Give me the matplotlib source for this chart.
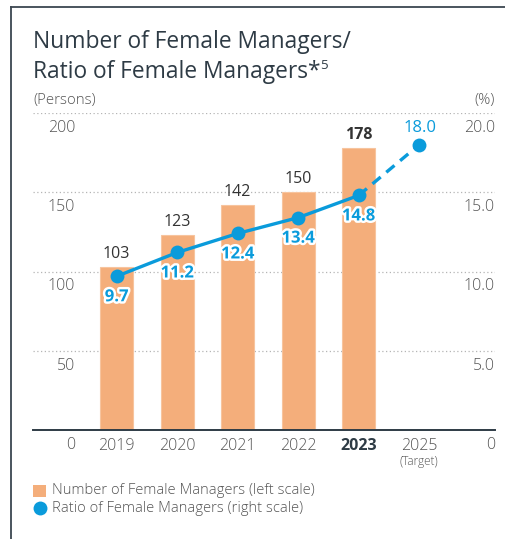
import matplotlib
matplotlib.use("Agg")
import matplotlib.pyplot as plt
import matplotlib.transforms as mtransforms
import matplotlib.patheffects as pe
from matplotlib.patches import Rectangle
from matplotlib.lines import Line2D

plt.rcParams['font.family'] = ['Open Sans', 'DejaVu Sans']

# ---- data ----
years = ["2019", "2020", "2021", "2022", "2023", "2025"]
managers = [103, 123, 142, 150, 178]
ratios = [9.7, 11.2, 12.4, 13.4, 14.8, 18.0]
left_ticks = [0, 50, 100, 150, 200]
left_tick_labels = ["0", "50", "100", "150", "200"]
right_ticks = [0, 5, 10, 15, 20]
right_tick_labels = ["0", "5.0", "10.0", "15.0", "20.0"]
title_line1 = "Number of Female Managers/"
title_line2 = "Ratio of Female Managers*"
legend_labels = ["Number of Female Managers (left scale)",
                 "Ratio of Female Managers (right scale)"]

W, H = 506, 539
DPI = 100
fig = plt.figure(figsize=(W / DPI, H / DPI), dpi=DPI)

def fx(x):
    return x / W

def fy(y):
    return 1 - y / H

BAR_C = "#F4AE7B"
BLUE = "#0A9BDB"
DARK = "#2E3B45"
TXT = "#555555"
LIGHT = "light"

# frame lines
fig.add_artist(Line2D([fx(11), fx(11)], [fy(7), fy(H + 2)], color="#3C4650", lw=1.3))
fig.add_artist(Line2D([fx(11), fx(W + 2)], [fy(7), fy(7)], color="#3C4650", lw=1.3))

# axes: x from 33 to 495 px, y from 430 (0) to 113 (200)
ax = fig.add_axes([fx(33), fy(430), (495 - 33) / W, (430 - 113) / H])
x = list(range(len(years)))
step = 60.5
ax.set_xlim((33 - 116.7) / step, (495 - 116.7) / step)
ax.set_ylim(0, 200)

ax.bar(x[:len(managers)], managers, width=33 / step, color=BAR_C,
       edgecolor="#F7C49E", linewidth=0.8, zorder=2)
for xi, v in zip(x, managers):
    bold = xi == len(managers) - 1
    ax.annotate(str(v), xy=(xi, v), xytext=(0, 13), textcoords="offset pixels",
                ha="center", va="center", fontsize=11.5, color="#333333",
                fontweight="bold" if bold else "normal", zorder=5)

for s in ["top", "left", "right"]:
    ax.spines[s].set_visible(False)
ax.spines["bottom"].set_color(DARK)
ax.spines["bottom"].set_linewidth(1.4)
ax.spines["bottom"].set_zorder(4)

ax.set_yticks(left_ticks)
ax.set_yticklabels(left_tick_labels)
ax.yaxis.grid(True, linestyle=(0, (1, 2)), color="#B5B5B5", linewidth=0.9)
ax.set_axisbelow(True)
ax.tick_params(axis="y", length=0, pad=0, labelsize=11.5, labelcolor=TXT)
for lab in ax.get_yticklabels():
    lab.set_fontweight(LIGHT)
    lab.set_transform(lab.get_transform() +
                      mtransforms.ScaledTranslation(42 / DPI, -13 / DPI, fig.dpi_scale_trans))

ax.set_xticks(x)
ax.set_xticklabels(years)
ax.tick_params(axis="x", length=0, pad=6, labelsize=11.5, labelcolor=TXT)
for lab in ax.get_xticklabels():
    if lab.get_text() == "2023":
        lab.set_fontweight("bold")
        lab.set_color(DARK)
    else:
        lab.set_fontweight(LIGHT)
ax.annotate("(Target)", xy=(5, 0), xycoords=("data", "axes fraction"),
            xytext=(0, -31), textcoords="offset pixels", ha="center", va="center",
            fontsize=8.5, color=TXT, fontweight=LIGHT)

# right axis
ax2 = ax.twinx()
ax2.set_ylim(0, 20)
ax2.set_yticks(right_ticks)
ax2.set_yticklabels(right_tick_labels)
ax2.tick_params(axis="y", length=0, pad=0, labelsize=11.5, labelcolor=TXT)
for lab in ax2.get_yticklabels():
    lab.set_fontweight(LIGHT)
    lab.set_horizontalalignment("right")
    lab.set_transform(lab.get_transform() +
                      mtransforms.ScaledTranslation(0, -13 / DPI, fig.dpi_scale_trans))
for s in ax2.spines.values():
    s.set_visible(False)

n = len(managers)
ax2.plot(x[:n], ratios[:n], "-", color=BLUE, lw=2.4, zorder=3)
ax2.plot(x[n - 1:], ratios[n - 1:], "--", color=BLUE, lw=2.4, dashes=(3.2, 2.2), zorder=3)
ax2.plot(x, ratios, "o", color=BLUE, ms=10, zorder=4, markeredgewidth=0)

stroke = [pe.withStroke(linewidth=3.5, foreground="white")]
for xi, v in zip(x, ratios):
    if xi < n:
        ax2.annotate(f"{v:.1f}", xy=(xi, v), xytext=(0, -20), textcoords="offset pixels",
                     ha="center", va="center", fontsize=12, color=BLUE,
                     fontweight="bold", path_effects=stroke, zorder=6)
    else:
        ax2.annotate(f"{v:.1f}", xy=(xi, v), xytext=(1, 17), textcoords="offset pixels",
                     ha="center", va="center", fontsize=12, color=BLUE, zorder=6)

# axis unit labels
fig.text(fx(33), fy(100), "(Persons)", ha="left", va="center", fontsize=10.8, color=TXT,
         fontweight=LIGHT)
fig.text(fx(495), fy(100), "(%)", ha="right", va="center", fontsize=10.8, color=TXT,
         fontweight=LIGHT)

# title
fig.text(fx(33), fy(48), title_line1, ha="left", va="baseline", fontsize=16.4, color=DARK)
t2 = fig.text(fx(33), fy(78), title_line2, ha="left", va="baseline", fontsize=16.4, color=DARK)
fig.canvas.draw()
bb = t2.get_window_extent()
fig.text((bb.x1 - 0.5) / W, fy(69), "5", ha="left", va="baseline", fontsize=9.5, color=DARK)

# legend
fig.add_artist(Rectangle((fx(33), fy(497)), 13 / W, 12 / H, transform=fig.transFigure,
                         color=BAR_C, lw=0))
fig.text(fx(52), fy(491), legend_labels[0], ha="left", va="center", fontsize=10.6,
         color=TXT, fontweight=LIGHT)
fig.add_artist(Line2D([fx(40)], [fy(508)], marker="o", ms=10, color=BLUE,
                      markeredgewidth=0, transform=fig.transFigure))
fig.text(fx(52), fy(508), legend_labels[1], ha="left", va="center", fontsize=10.6,
         color=TXT, fontweight=LIGHT)

fig.savefig("out.png", dpi=DPI)
